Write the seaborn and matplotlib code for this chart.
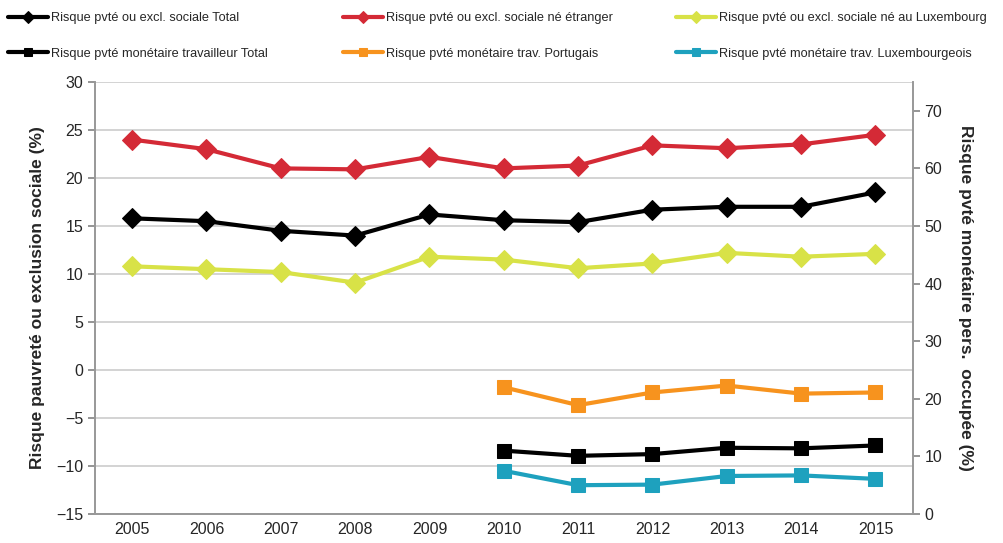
import matplotlib
matplotlib.use('Agg')
import matplotlib.pyplot as plt
import seaborn as sns
import pandas as pd

years = [2005, 2006, 2007, 2008, 2009, 2010, 2011, 2012, 2013, 2014, 2015]
years_trav = [2010, 2011, 2012, 2013, 2014, 2015]

# axe gauche : risque de pauvreté ou d'exclusion sociale
aropse_total = [15.8, 15.5, 14.5, 14.0, 16.2, 15.6, 15.4, 16.7, 17.0, 17.0, 18.5]
aropse_etranger = [24.0, 23.0, 21.0, 20.9, 22.2, 21.0, 21.3, 23.4, 23.1, 23.5, 24.5]
aropse_lux = [10.8, 10.5, 10.2, 9.1, 11.8, 11.5, 10.6, 11.1, 12.2, 11.8, 12.1]

# axe droit : risque de pauvreté monétaire des travailleurs
trav_total = [11.0, 10.1, 10.4, 11.5, 11.4, 11.9]
trav_portugais = [22.0, 18.9, 21.1, 22.3, 20.9, 21.1]
trav_lux = [7.5, 5.0, 5.1, 6.6, 6.7, 6.1]

sns.set_theme(style="white")
plt.rcParams['font.family'] = ['Liberation Sans', 'DejaVu Sans']

fig = plt.figure(figsize=(10.04, 5.43), dpi=100)
ax = fig.add_axes([0.0946, 0.0534, 0.8144, 0.7956])
ax2 = ax.twinx()

left_series = [
    ("Risque pvté ou excl. sociale Total", aropse_total, '#000000'),
    ("Risque pvté ou excl. sociale né étranger", aropse_etranger, '#d42a36'),
    ("Risque pvté ou excl. sociale né au Luxembourg", aropse_lux, '#d8e247'),
]
right_series = [
    ("Risque pvté monétaire travailleur Total", trav_total, '#000000'),
    ("Risque pvté monétaire trav. Portugais", trav_portugais, '#f7931e'),
    ("Risque pvté monétaire trav. Luxembourgeois", trav_lux, '#1ea1be'),
]

handles = []
for name, vals, col in left_series:
    df = pd.DataFrame({'year': years, 'val': vals})
    sns.lineplot(data=df, x='year', y='val', ax=ax, color=col, linewidth=3,
                 marker='D', markersize=10.5, markeredgecolor=col)
    handles.append((ax.lines[-1], name))
for name, vals, col in right_series:
    df = pd.DataFrame({'year': years_trav, 'val': vals})
    sns.lineplot(data=df, x='year', y='val', ax=ax2, color=col, linewidth=3,
                 marker='s', markersize=10.5, markeredgecolor=col)
    handles.append((ax2.lines[-1], name))

ax.set_xlim(2004.5, 2015.5)
ax.set_ylim(-15, 30)
ax.set_yticks(range(-15, 31, 5))
ax2.set_ylim(0, 75)
ax2.set_yticks(range(0, 71, 10))
ax.set_xticks(years)
ax.set_xticks([y + 0.5 for y in [2004] + years], minor=True)
ax.tick_params(axis='x', which='major', length=0, labelsize=11.5, pad=6)
ax.tick_params(axis='x', which='minor', length=5, color='#888888', direction='out')
ax.tick_params(axis='y', length=5, color='#888888', direction='out', labelsize=11.5, left=True)
ax2.tick_params(axis='y', length=5, color='#888888', direction='out', labelsize=11.5, right=True)
ax.yaxis.grid(True, color='#cccccc', linewidth=1.2)
ax.set_axisbelow(True)

for a in (ax, ax2):
    for s in a.spines.values():
        s.set_color('#999999')
    a.spines['top'].set_visible(False)

ax.set_xlabel("")
ax.set_ylabel("Risque pauvreté ou exclusion sociale (%)", fontsize=12.5, fontweight='bold', labelpad=8)
ax2.set_ylabel("Risque pvté monétaire pers.  occupée (%)", fontsize=12.5, fontweight='bold',
               rotation=270, labelpad=22)

# légende : trois colonnes de deux lignes, placées comme dans l'original
col_x = [8, 343, 676]
for i, x0 in enumerate(col_x):
    pair = [handles[i], handles[i + 3]]
    fig.legend([p[0] for p in pair], [p[1] for p in pair], loc='upper left',
               bbox_to_anchor=(x0 / 1004, 1 - 12 / 543), frameon=False, fontsize=9.2,
               markerscale=0.6, handlelength=3.1, handletextpad=0.3,
               labelspacing=1.85, borderpad=0, borderaxespad=0)

plt.savefig("out.png", dpi=100)
plt.close()
